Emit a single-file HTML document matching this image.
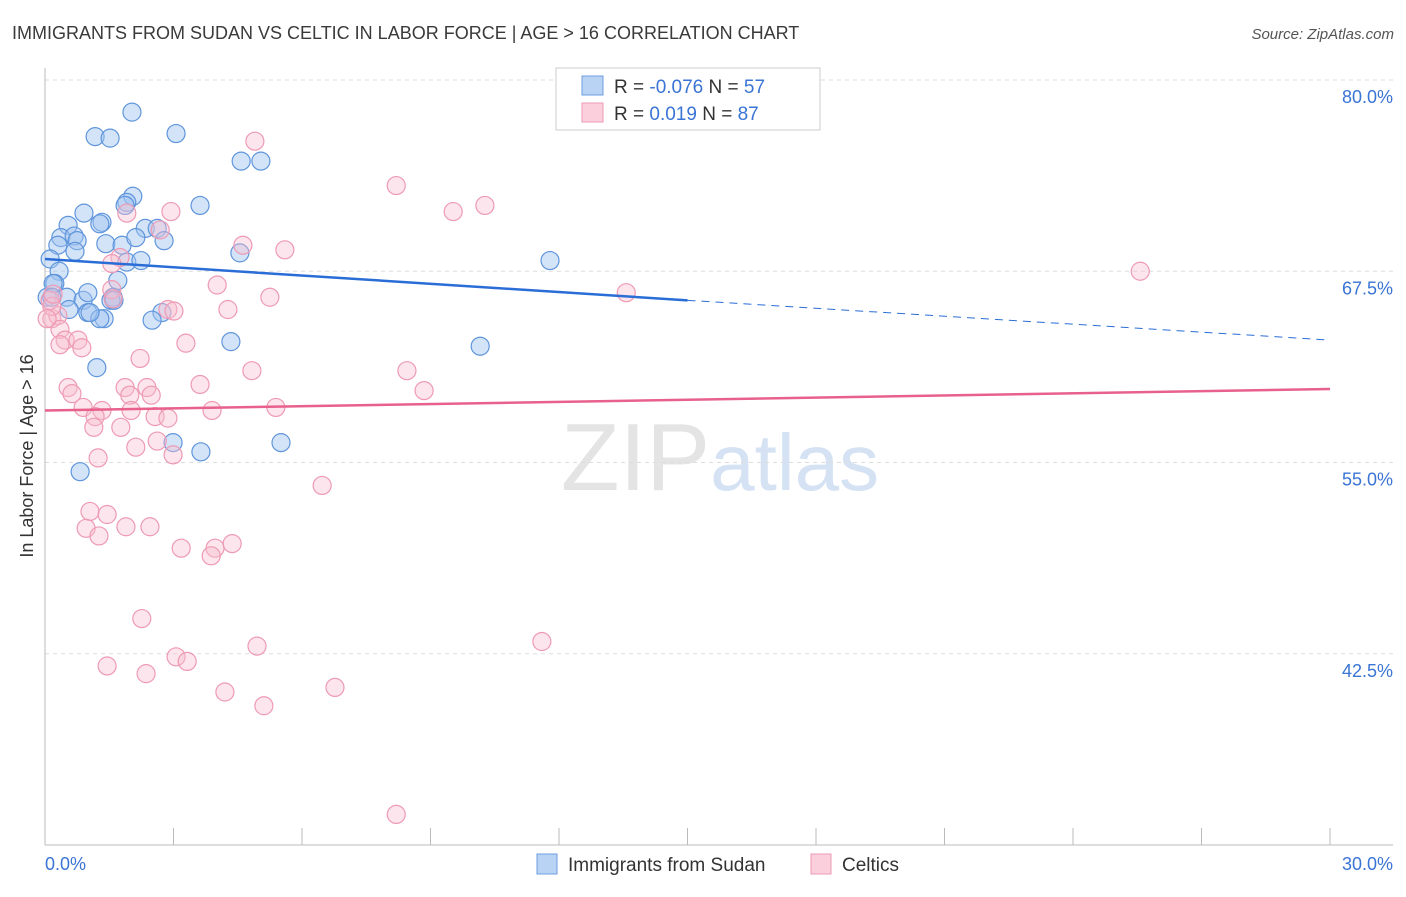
<!DOCTYPE html>
<html><head><meta charset="utf-8"><style>
body{margin:0;background:#fff;font-family:"Liberation Sans",sans-serif}
svg text{font-family:"Liberation Sans",sans-serif}
</style></head><body>
<svg id="chart" width="1406" height="892" xmlns="http://www.w3.org/2000/svg">
<text x="12" y="39" font-size="18" fill="#3a3a3a">IMMIGRANTS FROM SUDAN VS CELTIC IN LABOR FORCE | AGE &gt; 16 CORRELATION CHART</text>
<text x="1394" y="39" font-size="15" fill="#555" text-anchor="end" font-style="italic">Source: ZipAtlas.com</text>
<text x="720" y="490" font-size="96" text-anchor="middle" fill="#e4e4e4" font-family="Liberation Serif,serif">ZIP<tspan fill="#d4e2f4" font-family="Liberation Sans,sans-serif" font-size="80">atlas</tspan></text>
<g id="grid"></g><g id="axes"></g><g id="pts"></g><g id="trend"></g>
<text transform="translate(33,456) rotate(-90)" font-size="18" fill="#333" text-anchor="middle">In Labor Force | Age &gt; 16</text>
<g>
<rect x="556" y="68" width="264" height="62" fill="#fff" stroke="#ccc"/>
<rect x="582" y="76" width="21" height="19" fill="#b9d3f5" stroke="#6e9ee0"/>
<rect x="582" y="103" width="21" height="19" fill="#fbd0dc" stroke="#ee9ab4"/>
<text x="614" y="93" font-size="19" fill="#333">R = <tspan fill="#3a74d4">-0.076</tspan>   N = <tspan fill="#3a74d4">57</tspan></text>
<text x="614" y="120" font-size="19" fill="#333">R =   <tspan fill="#3a74d4">0.019</tspan>   N = <tspan fill="#3a74d4">87</tspan></text>
</g>
<g>
<rect x="537" y="854" width="20" height="20" fill="#b9d3f5" stroke="#6e9ee0"/>
<text x="568" y="871" font-size="19" fill="#333">Immigrants from Sudan</text>
<rect x="811" y="854" width="20" height="20" fill="#fbd0dc" stroke="#ee9ab4"/>
<text x="842" y="871" font-size="19" fill="#333">Celtics</text>
</g>
</svg>
<script>
const yTicks=[80,67.5,55,42.5];
const yTickLabels=["80.0%","67.5%","55.0%","42.5%"];
const xTickLabels=["0.0%","30.0%"];
const sudanX=[2.03,1.17,1.52,3.06,4.58,5.04,3.62,2.05,1.91,1.87,0.91,0.54,1.33,1.28,2.34,2.62,0.37,0.68,0.75,0.30,1.42,1.80,2.12,2.78,4.55,0.12,0.70,1.91,2.24,11.79,0.33,1.70,0.23,0.05,0.51,0.89,1.00,1.59,1.54,1.38,0.56,1.00,1.28,2.73,4.34,10.16,1.21,2.99,3.64,5.51,0.82,0.19,0.16,1.05,1.61,2.50];
const sudanY=[77.9,76.3,76.2,76.5,74.7,74.7,71.8,72.4,72.0,71.8,71.3,70.5,70.7,70.6,70.3,70.3,69.7,69.8,69.5,69.2,69.3,69.2,69.7,69.5,68.7,68.3,68.8,68.1,68.2,68.2,67.5,66.9,66.7,65.8,65.8,65.6,66.1,65.8,65.6,64.4,65.0,64.8,64.4,64.8,62.9,62.6,61.2,56.3,55.7,56.3,54.4,66.7,65.8,64.8,65.6,64.3];
const celticX=[4.90,8.20,9.53,10.27,2.94,1.91,4.62,5.60,2.69,1.75,25.57,4.02,13.57,5.25,1.56,2.87,3.01,4.27,0.16,0.30,0.35,0.47,0.35,0.77,0.86,3.29,2.22,4.83,8.45,3.62,8.85,0.54,0.63,1.87,2.38,1.98,2.48,0.89,1.33,2.01,3.90,5.39,1.17,2.57,2.87,1.14,1.77,2.62,2.12,2.99,1.24,6.47,1.05,1.45,0.96,1.89,2.45,1.26,3.18,3.97,4.37,3.88,2.26,11.60,4.95,3.06,3.32,1.45,2.36,4.20,6.77,5.11,8.20,0.12,0.16,0.05,1.56,0.19,1.59];
const celticY=[76.0,73.1,71.4,71.8,71.4,71.3,69.2,68.9,70.2,68.4,67.5,66.6,66.1,65.8,66.3,65.0,64.9,65.0,64.4,64.6,63.7,63.0,62.7,63.0,62.5,62.8,61.8,61.0,61.0,60.1,59.7,59.9,59.5,59.9,59.9,59.4,59.4,58.6,58.4,58.4,58.4,58.6,58.0,58.0,57.9,57.3,57.3,56.4,56.0,55.5,55.3,53.5,51.8,51.6,50.7,50.8,50.8,50.2,49.4,49.4,49.7,48.9,44.8,43.3,43.0,42.3,42.0,41.7,41.2,40.0,40.3,39.1,32.0,65.6,65.2,64.4,68.0,66.0,65.7];
const sudanTrend=[68.3,65.6,63.0];
const celticTrend=[58.4,59.8];
const X0=45,X1=1330,Y0=80,PPU=15.3;
const xs=v=>X0+(X1-X0)*v/30;
const ys=v=>Y0+(80-v)*PPU;
const NS='http://www.w3.org/2000/svg';
function mk(tag,parent,attrs){const e=document.createElementNS(NS,tag);for(const k in attrs)e.setAttribute(k,attrs[k]);document.getElementById(parent).appendChild(e);return e;}
yTicks.forEach((t,i)=>{
 const l=mk('line','grid',{x1:45,x2:1393,y1:ys(t),y2:ys(t),stroke:'#ddd','stroke-dasharray':'4,4'});
 
 
 const tx=mk('text','grid',{x:1393,y:ys(t)+23,'font-size':18,fill:'#3a74d4','text-anchor':'end'});
 tx.textContent=yTickLabels[i];
 
 
});
let ax=mk('line','axes',{x1:45,x2:45,y1:68,y2:845,stroke:'#bbb'});


ax=mk('line','axes',{x1:45,x2:1393,y1:845,y2:845,stroke:'#bbb'});


for(let k=1;k<=10;k++){const t=mk('line','axes',{x1:xs(k*3),x2:xs(k*3),y1:828,y2:845,stroke:'#bbb'});
 
 }
[[0,'start',45],[30,'end',1393]].forEach((d,i)=>{const t=mk('text','axes',{x:d[2],y:870,'font-size':18,fill:'#3a74d4','text-anchor':d[1]});t.textContent=xTickLabels[i];
 
 });
sudanX.forEach((x,i)=>{const c=mk('circle','pts',{cx:xs(x),cy:ys(sudanY[i]),r:9,fill:'rgba(160,196,240,0.45)',stroke:'#5f95dc','stroke-width':1.2});
 
 });
celticX.forEach((x,i)=>{const c=mk('circle','pts',{cx:xs(x),cy:ys(celticY[i]),r:9,fill:'rgba(248,190,208,0.4)',stroke:'#ee9ab4','stroke-width':1.2});
 
 });
let tl=mk('line','trend',{x1:xs(0),y1:ys(sudanTrend[0]),x2:xs(15),y2:ys(sudanTrend[1]),stroke:'#2a6dd6','stroke-width':2.5});


tl=mk('line','trend',{x1:xs(15),y1:ys(sudanTrend[1]),x2:xs(30),y2:ys(sudanTrend[2]),stroke:'#2a6dd6','stroke-width':1,'stroke-dasharray':'8,6'});


tl=mk('line','trend',{x1:xs(0),y1:ys(celticTrend[0]),x2:xs(30),y2:ys(celticTrend[1]),stroke:'#e8608c','stroke-width':2.5});


</script>
</body></html>
